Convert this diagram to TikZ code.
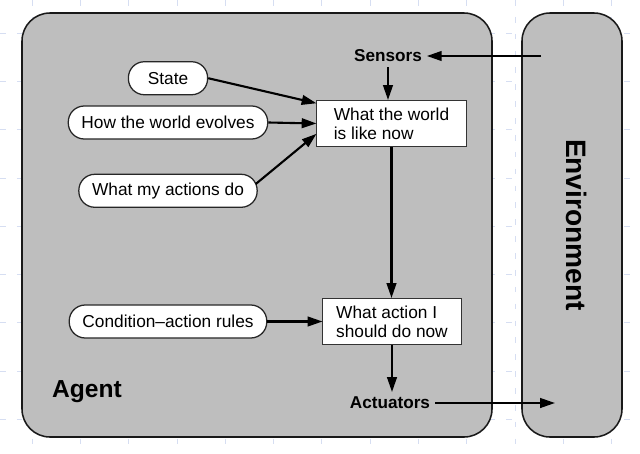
\documentclass[tikz,border=0pt]{standalone}
\usepackage{fontspec}
\setmainfont{Liberation Sans}
\usepackage{xcolor}
\usetikzlibrary{calc}
\usetikzlibrary{positioning}
\usetikzlibrary{arrows.meta}

\definecolor{panel}{RGB}{190,190,190}
\definecolor{gridblue}{RGB}{214,222,242}

\tikzset{
  gridline/.style={draw=gridblue, line width=0.5pt, dash pattern=on 4pt off 8pt},
  panelbox/.style={draw=black!90, fill=panel, line width=1.1pt, rounded corners=0.7cm},
  pill/.style={draw=black!85, fill=white, line width=0.9pt, rounded corners=0.4cm,
    minimum height=0.825cm, minimum width=1.98cm, inner xsep=0.33cm,
    font=\fontsize{12.3}{13.5}\selectfont},
  block/.style={rectangle, draw=black!80, fill=white, line width=0.7pt, align=left,
    minimum height=1.15cm, inner xsep=0.3cm, font=\fontsize{12.3}{13.5}\selectfont},
  port/.style={font=\bfseries\fontsize{12.2}{14}\selectfont},
  edge/.style={draw, line width=1.5pt, -{Triangle[length=0.37cm,width=0.24cm]}},
}

\begin{document}
\begin{tikzpicture}[x=0.025cm, y=-0.025cm]
    \useasboundingbox (0,0) rectangle (640,454);

    % Background grid
    \foreach \i in {0,...,12}
      \draw[gridline] ({32+48.3*\i},0) -- ({32+48.3*\i},454);
    \foreach \j in {0,...,8}
      \draw[gridline] (0,{33+48.3*\j}) -- (640,{33+48.3*\j});

    % Agent and environment panels
    \path[panelbox] (22,13) rectangle (492,437);
    \path[panelbox] (522,13) rectangle (622,437);

    % Define nodes
    \node[block, minimum width=3.725cm] (world) at (391.5,123.5) {What the world\\is like now};
    \node[block, minimum width=3.45cm] (action) at (392,321.5) {What action I\\should do now};
    \node[port] (sensors) at (388,56) {Sensors};
    \node[port] (actuators) at (390,403) {Actuators};
    \node[pill] (evolve) at (168,122.5) {How the world evolves};
    \node[pill, above=0.25cm of evolve] (state) {State};
    \node[pill, below=0.85cm of evolve] (effects) {What my actions do};
    \node[pill] (rules) at (168,321.5) {Condition--action rules};
    \node[font=\bfseries\fontsize{17.5}{20}\selectfont] (agent) at (87,392) {Agent};
    \node[font=\bfseries\fontsize{20}{24}\selectfont, rotate=-90] (env) at (577,225) {Environment};
    \coordinate (percept) at (541,56);
    \coordinate (effect) at (555,403);

    % Connect the nodes
    \draw[edge] (percept) -- (sensors.east);
    \draw[edge] (sensors.south) -- (sensors.south |- world.north);
    \draw[edge] (state.east) -- ($(world.north west)!0.07!(world.south west)$);
    \draw[edge] (evolve.east) -- (world.west);
    \draw[edge] ([shift={(-0.05cm,0.17cm)}]effects.east) -- ($(world.north west)!0.72!(world.south west)$);
    \draw[edge] (world.south) -- (world.south |- action.north);
    \draw[edge] (rules.east) -- (action.west);
    \draw[edge] (action.south) -- (action.south |- actuators.north);
    \draw[edge] (actuators.east) -- (effect);

  \end{tikzpicture}
\end{document}
